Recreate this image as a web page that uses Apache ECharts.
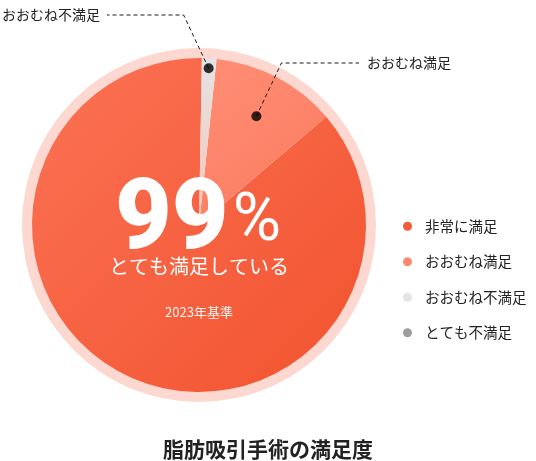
<!DOCTYPE html>
<html lang="ja">
<head>
<meta charset="UTF-8">
<title>脂肪吸引手術の満足度</title>
<script src="https://cdn.jsdelivr.net/npm/echarts@6/dist/echarts.min.js"></script>
<style>
  html, body { margin: 0; padding: 0; background: #fff; }
  #main { width: 536px; height: 461px; }
</style>
</head>
<body>
<div id="main"></div>
<script>
// 回答の内訳（%）
var categories = ['非常に満足', 'おおむね満足', 'おおむね不満足', 'とても不満足'];
var values = [86.5, 12.1, 1.4, 0];
// 引き出し線つきのラベルを出す項目
var calloutNames = ['おおむね不満足', 'おおむね満足'];
var headline = '99';
var subline = 'とても満足している';
var baseYear = '2023年基準';
var chartTitle = '脂肪吸引手術の満足度';

var FONT = '"Noto Sans CJK JP", "Noto Sans", sans-serif';
var CX = 199, CY = 225, R = 167, RING = 177;

function grad(x, y, x2, y2, c1, c2) {
    return new echarts.graphic.LinearGradient(x, y, x2, y2, [
        { offset: 0, color: c1 }, { offset: 1, color: c2 }
    ]);
}
var sliceColors = [
    grad(0, 0, 1, 1, '#fb7254', '#f2532f'),
    grad(0, 0, 1, 1, '#ff8e75', '#fb7a5e'),
    grad(0, 0, 0, 1, '#e4e4e4', '#f8c4b8'),
    '#9e9e9e'
];
var legendColors = ['#f35a3a', '#fd8a70', '#e4e4e4', '#9e9e9e'];

// 黒い点の半径と、ラベルの置き場所
var dotRadius = { 'おおむね不満足': 157, 'おおむね満足': 123 };
var calloutPlace = {
    'おおむね不満足': { elbowX: -25, y: 15, endX: 107, labelX: 100, align: 'right' },
    'おおむね満足': { elbowX: 25, y: 63, endX: 359, labelX: 367, align: 'left' }
};

var total = values.reduce(function (a, b) { return a + b; }, 0);

var pieData = categories.map(function (name, i) {
    return { name: name, value: values[i], itemStyle: { color: sliceColors[i] } };
});

var dotData = calloutNames.map(function (name) {
    var idx = categories.indexOf(name);
    var cum = 0;
    for (var i = 0; i < idx; i++) cum += values[i];
    return { name: name, value: [dotRadius[name], cum + values[idx] / 2] };
});

// 透明な円グラフを点の半径で重ね、その引き出し線をラベルに使う
function calloutSeries(name) {
    var c = calloutPlace[name];
    return {
        type: 'pie',
        silent: true,
        center: [CX, CY],
        radius: [0, dotRadius[name]],
        startAngle: 89,
        clockwise: false,
        itemStyle: { color: 'rgba(0,0,0,0)' },
        emphasis: { disabled: true },
        label: {
            show: true,
            formatter: '{b}',
            fontFamily: FONT,
            fontSize: 14,
            color: '#222'
        },
        labelLine: {
            show: true,
            lineStyle: { color: '#1a1a1a', width: 1, type: [4, 3] }
        },
        labelLayout: function (p) {
            var s = p.labelLinePoints ? p.labelLinePoints[0] : [CX, CY];
            return {
                x: c.labelX,
                y: c.y,
                align: c.align,
                verticalAlign: 'middle',
                labelLinePoints: [[s[0], s[1]], [s[0] + c.elbowX, c.y], [c.endX, c.y]]
            };
        },
        data: categories.map(function (n, i) {
            var on = n === name;
            return {
                name: n,
                value: values[i],
                label: { show: on },
                labelLine: { show: on }
            };
        }),
        z: 4
    };
}

var myChart = echarts.init(document.getElementById('main'));

var option = {
    animation: false,
    title: {
        text: chartTitle,
        left: 'center',
        top: 434,
        textStyle: { fontFamily: FONT, fontSize: 21, fontWeight: 'bold', color: '#222' }
    },
    legend: {
        orient: 'vertical',
        left: 398,
        top: 214,
        itemGap: 21,
        itemWidth: 9,
        itemHeight: 9,
        icon: 'circle',
        selectedMode: false,
        data: categories.map(function (name, i) {
            return { name: name, itemStyle: { color: legendColors[i] } };
        }),
        textStyle: { fontFamily: FONT, fontSize: 14.5, color: '#222', padding: [0, 0, 0, 8] }
    },
    polar: { center: [CX, CY], radius: R },
    angleAxis: { type: 'value', min: 0, max: total, startAngle: 89, clockwise: false, show: false },
    radiusAxis: { type: 'value', min: 0, max: R, show: false },
    graphic: [
        {
            type: 'text', x: CX - 1, y: 222, z: 100,
            style: {
                text: '{n|' + headline + '}{p|%}',
                textAlign: 'center', textVerticalAlign: 'middle',
                fill: '#fff',
                rich: {
                    n: { fontFamily: 'Roboto, "Noto Sans", sans-serif', fontSize: 98, fontWeight: 900, fill: '#fff', lineHeight: 100, verticalAlign: 'bottom' },
                    p: { fontFamily: 'Roboto, "Noto Sans", sans-serif', fontSize: 66, fontWeight: 400, fill: '#fff', lineHeight: 72, verticalAlign: 'bottom', padding: [0, 0, 16, 4] }
                }
            }
        },
        {
            type: 'text', x: CX, y: 266, z: 100,
            style: { text: subline, textAlign: 'center', textVerticalAlign: 'middle', fill: '#fff', font: '400 20px ' + FONT }
        },
        {
            type: 'text', x: CX, y: 312, z: 100,
            style: { text: baseYear, textAlign: 'center', textVerticalAlign: 'middle', fill: 'rgba(255,255,255,0.92)', font: '400 13px ' + FONT }
        }
    ],
    series: [
        {
            name: 'ring',
            type: 'pie',
            silent: true,
            center: [CX, CY],
            radius: [R - 2, RING],
            label: { show: false },
            labelLine: { show: false },
            itemStyle: { color: '#fdd8d0' },
            data: [{ name: '', value: total }],
            z: 1
        },
        {
            name: '満足度',
            type: 'pie',
            silent: true,
            center: [CX, CY],
            radius: [0, R],
            startAngle: 89,
            clockwise: false,
            label: { show: false },
            labelLine: { show: false },
            emphasis: { disabled: true },
            data: pieData,
            z: 2
        },
        calloutSeries('おおむね不満足'),
        calloutSeries('おおむね満足'),
        {
            type: 'scatter',
            coordinateSystem: 'polar',
            symbol: 'circle',
            symbolSize: 10,
            silent: true,
            itemStyle: { color: '#000' },
            data: dotData,
            z: 5
        }
    ]
};

myChart.setOption(option);
</script>
</body>
</html>
